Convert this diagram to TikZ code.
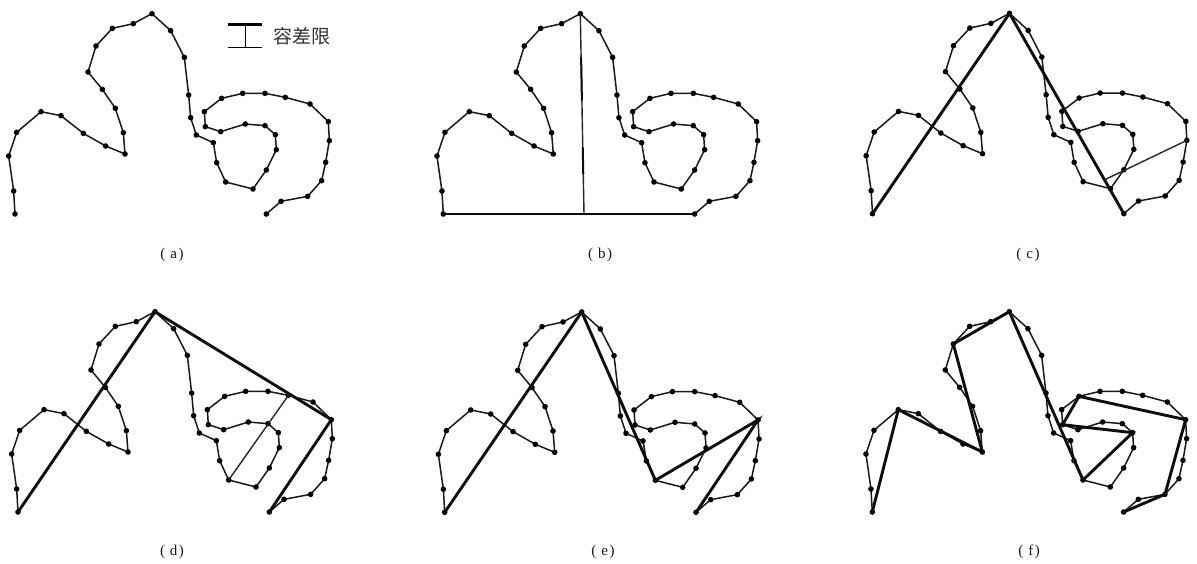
\documentclass[tikz,border=0pt]{standalone}
\usepackage{fontspec}
\setmainfont{Liberation Serif}
\newfontfamily\cjkfont{Noto Sans CJK SC}
\usetikzlibrary{calc}
\tikzset{
  curveline/.style={line width=1.5pt,black!90,line join=round},
  chord/.style={line width=2.9pt,black!95,line cap=round},
  thinline/.style={line width=1.4pt,black!85},
  vertexdot/.style={fill=black,radius=2.8pt},
  caption/.style={font=\fontsize{15}{17}\selectfont,inner sep=0pt,text=black!90},
}
\newcommand{\capt}[1]{(\hspace{5pt}#1\hspace{1.5pt})}
\newcommand{\drawpanel}[3]{%
  \begin{scope}[shift={(#2,#3)},x=0.33333pt,y=-0.33333pt]
    \foreach \n/\px/\py in {
      0/45/642,1/41/573,2/26/468,3/50/397,4/123/335,5/183/347,6/250/400,7/317/438,8/375/462,9/370/398,
      10/346/325,11/307/268,12/264/216,13/288/138,14/337/85,15/400/71,16/456/41,17/512/92,18/553/172,19/566/285,
      20/572/353,21/589/405,22/640/428,23/650/488,24/677/546,25/759/567,26/799/510,27/829/449,28/826/404,29/795/377,
      30/736/372,31/662/395,32/616/380,33/613/335,34/665/295,35/728/280,36/795/280,37/856/292,38/930/312,39/985/365,
      40/988/422,41/977/487,42/965/542,43/923/589,44/843/604,45/799/642}
      {\coordinate (#1\n) at (\px,\py);}
    \draw[curveline] (#10) foreach \i in {1,...,45} {-- (#1\i)};
    \foreach \i in {0,...,45} {\fill[vertexdot] (#1\i) circle;}
  \end{scope}}
\begin{document}
\begin{tikzpicture}[x=1pt,y=-1pt]
\useasboundingbox (0,0) rectangle (1197,563);
\fill[white] (0,0) rectangle (1197,563);

% legend
\coordinate (la) at (228,24.5); \coordinate (lb) at (262,24.5);
\coordinate (lc) at (228,47); \coordinate (ld) at (262,47);
\coordinate (lt) at (245,24.5); \coordinate (lu) at (245,47);
\draw[line width=2.2pt] (la) -- (lb);
\draw[line width=1pt] (lc) -- (ld);
\draw[line width=1pt] (lt) -- (lu);
\node[inner sep=0pt,text=black!80,font=\cjkfont\fontsize{19}{21}\selectfont] (legendtext) at (302,36) {容差限};

% panel (a)
\drawpanel{a}{0}{0}
\node[caption] (capa) at (172,255) {\capt{a}};

% panel (b)
\drawpanel{b}{428.3}{0}
\coordinate (bfoot) at (584,214);
\draw[thinline] (b16) -- (bfoot);
\draw[chord] (b0) -- (b45);
\draw[chord,line width=2pt] ($(b16)!0.22!(bfoot)$) -- ($(b16)!0.43!(bfoot)$);
\draw[chord,line width=2pt] ($(b16)!0.67!(bfoot)$) -- ($(b16)!0.80!(bfoot)$);
\node[caption] (capb) at (600,255) {\capt{b}};

% panel (c)
\drawpanel{c}{857.5}{-0.3}
\draw[chord] (c0) -- (c16) -- (c45);
\coordinate (cfoot) at ($(c16)!0.831!(c45)$);
\draw[thinline] (c40) -- (cfoot);
\node[caption] (capc) at (1028,255) {\capt{c}};

% panel (d)
\drawpanel{d}{3}{298}
\draw[chord] (d0) -- (d16) -- (d39) -- (d45);
\coordinate (dfoot) at ($(d16)!0.762!(d39)$);
\draw[thinline] (dfoot) -- (d24);
\node[caption] (capd) at (172,552) {\capt{d}};

% panel (e)
\drawpanel{e}{429.7}{298.3}
\draw[chord] (e0) -- (e16) -- (e24) -- (e39) -- (e45);
\node[caption] (cape) at (603,552) {\capt{e}};

% panel (f)
\drawpanel{f}{857.3}{298}
\draw[chord] (f0) -- (f4) -- (f8) -- (f13) -- (f16) -- (f24) -- (f28) -- (f32) -- (f34) -- (f39) -- (f43) -- (f45);
\node[caption] (capf) at (1029,552) {\capt{f}};
\end{tikzpicture}
\end{document}
